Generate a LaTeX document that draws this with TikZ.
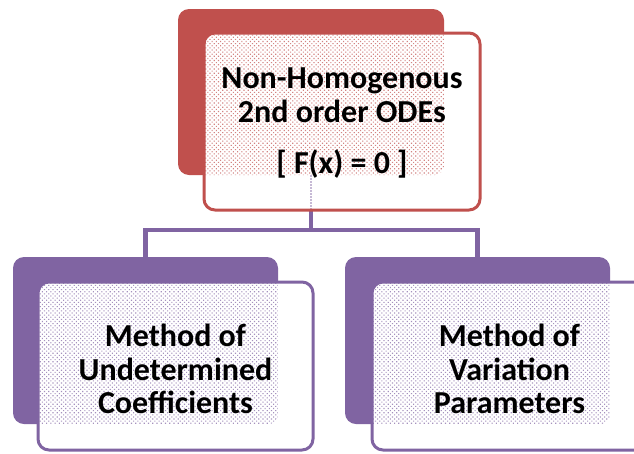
\documentclass[tikz,border=0pt]{standalone}
\usepackage{fontspec}
\setmainfont{Carlito}
\usetikzlibrary{patterns.meta}
\definecolor{boxred}{HTML}{C0504D}
\definecolor{boxpurple}{HTML}{8064A2}
\begin{document}
\begin{tikzpicture}[x=1pt,y=-1pt,
  backbox/.style={rectangle, rounded corners=11pt, fill=#1, draw=none, inner sep=0pt},
  frontbox/.style={rectangle, rounded corners=11pt, fill=white, draw=#1, line width=3pt, inner sep=0pt},
  boxtext/.style={align=center, inner sep=0pt, font=\fontsize{32}{33.5}\selectfont\bfseries},
  shade/.style={pattern={Dots[distance=3pt,radius=0.8pt,angle=45]}, pattern color=#1, rounded corners=10pt},
  conn/.style={draw=boxpurple, line width=4.5pt}
]
% canvas
\fill[white] (0,0) rectangle (634,453);
\useasboundingbox (0,0) rectangle (634,453);
\clip (0,0) rectangle (634,453);

% rear panels
\node[backbox=boxred, minimum width=266pt, minimum height=166pt] (tb) at (311,92) {};
\node[backbox=boxpurple, minimum width=265pt, minimum height=167pt] (lb) at (145.5,340.5) {};
\node[backbox=boxpurple, minimum width=265pt, minimum height=167pt] (rb) at (477.5,340.5) {};

% connectors
\coordinate (bus) at (311,230);
\draw[conn] (tb.south) -- (tb.south |- bus) -| ([yshift=-5pt]lb.north);
\draw[conn] (tb.south |- bus) -| ([yshift=-5pt]rb.north);

% front panels
\node[frontbox=boxred, minimum width=276pt, minimum height=177pt,
  path picture={
    \fill[shade=boxred!70] (tb.north west) rectangle (tb.south east);
    \draw[boxpurple!45, densely dotted, line width=2pt] (tb.south) -- (tb.south |- path picture bounding box.south);
  },
  label={[boxtext, yshift=-2pt]center:Non-Homogenous\\2nd order ODEs\\[18pt]{[} F(x) = 0 {]}}] (tf) at (342,121.5) {};

\node[frontbox=boxpurple, minimum width=275pt, minimum height=168pt,
  path picture={\fill[shade=boxpurple!70] (lb.north west) rectangle (lb.south east);},
  label={[boxtext, yshift=-3pt]center:Method of\\Undetermined\\Coefficients}] (lf) at (175.5,366) {};

\node[frontbox=boxpurple, minimum width=275pt, minimum height=168pt,
  path picture={\fill[shade=boxpurple!70] (rb.north west) rectangle (rb.south east);},
  label={[boxtext, yshift=-3pt]center:Method of\\Variation\\Parameters}] (rf) at (509.5,366) {};
\end{tikzpicture}
\end{document}
